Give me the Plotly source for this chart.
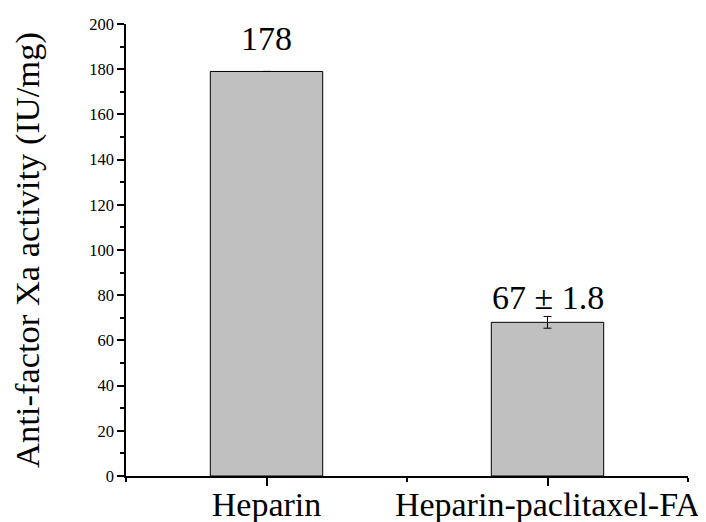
import plotly.graph_objects as go

categories = ["Heparin", "Heparin-paclitaxel-FA"]
values = [179, 68]
errors = [0, 2.6]
value_labels = ["178", "67 ± 1.8"]
y_ticks = [0, 20, 40, 60, 80, 100, 120, 140, 160, 180, 200]

xpos = list(range(len(categories)))
FONT = "Liberation Serif"

fig = go.Figure()
fig.add_trace(go.Bar(
    x=xpos, y=values, width=0.4,
    marker=dict(color="#c0c0c0", line=dict(color="black", width=1)),
    error_y=dict(type="data", array=errors, visible=True, color="black", thickness=1, width=4),
    showlegend=False,
))

for i, (v, e, lab) in enumerate(zip(values, errors, value_labels)):
    fig.add_annotation(x=xpos[i], y=v + e, text=lab, showarrow=False,
                       yanchor="bottom", yshift=12 if e == 0 else -2,
                       font=dict(family=FONT, size=34, color="black"))

# page body has an 8px margin, so figure is sized to fit the 706x522 window
fig.update_layout(
    width=698, height=514,
    margin=dict(l=118, r=18, t=16, b=46, autoexpand=False),
    plot_bgcolor="white", paper_bgcolor="white",
    font=dict(family=FONT, color="black"),
    bargap=0.6,
)
fig.update_xaxes(
    range=[-0.5, 1.5], tickmode="linear", tick0=0, dtick=1,
    labelalias={str(p): c for p, c in zip(xpos, categories)},
    ticks="outside", ticklen=8, tickwidth=1.5, tickcolor="black",
    showline=True, linecolor="black", linewidth=1.5, showgrid=False, zeroline=False,
    tickfont=dict(family=FONT, size=34, color="black"), automargin=False,
    ticklabelstandoff=-11,
    minor=dict(tick0=0.5, dtick=0.5, ticks="outside", ticklen=4, tickwidth=1.5, tickcolor="black", showgrid=False),
)
fig.update_yaxes(
    range=[0, 200], tickmode="array", tickvals=y_ticks,
    ticks="outside", ticklen=7, tickwidth=1.5, tickcolor="black",
    showline=True, linecolor="black", linewidth=1.5, showgrid=False, zeroline=False,
    tickfont=dict(family=FONT, size=16.5, color="black"), automargin=False,
    minor=dict(dtick=10, ticks="outside", ticklen=4, tickwidth=1.5, tickcolor="black", showgrid=False),
    title=dict(text="Anti-factor Xa activity (IU/mg)", font=dict(family=FONT, size=34.5, color="black"), standoff=50),
)

fig.write_html("out.html")
